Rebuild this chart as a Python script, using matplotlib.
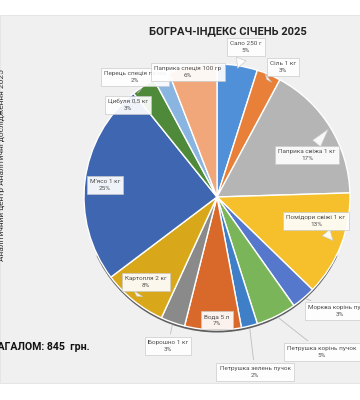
import matplotlib.pyplot as plt
from matplotlib.patches import Rectangle, Wedge
import numpy as np

plt.rcParams['font.family'] = ['Liberation Sans Narrow', 'Roboto', 'DejaVu Sans']

labels = ['Сало 250 г', 'Сіль 1 кг', 'Паприка свіжа 1 кг', 'Помідори свіжі 1 кг',
          'Морква корінь пучок', 'Петрушка корінь пучок', 'Петрушка зелень пучок',
          'Вода 5 л', 'Борошно 1 кг', 'Картопля 2 кг', 'М’ясо 1 кг',
          'Цибуля 0,5 кг', 'Перець спеція пачка', 'Паприка спеція 100 гр']
shares = [5, 3, 17, 13, 3, 5, 2, 7, 3, 8, 25, 3, 2, 6]
colors = ['#4f90d8', '#e8803a', '#b5b5b5', '#f5c02c', '#5577cc', '#7ab55a',
          '#3f7fc8', '#d9692a', '#8a8a8a', '#d9a81a', '#3f66b0', '#4f8a3a',
          '#8ab5e0', '#f2a77a']
title = 'БОГРАЧ-ІНДЕКС СІЧЕНЬ 2025'
total_text = 'ЗАГАЛОМ: 845  грн.'
side_text = 'Аналітичний центр Аналітичні дослідження 2025'

# label box centres (pixel coords, y from top), pointer style and pointer radius
label_pos = [(246, 47), (283, 67), (307, 155), (316, 221), (340, 311), (322, 352),
             (255, 372), (217, 320), (168, 346), (146, 282), (105, 185),
             (128, 105), (135, 77), (188, 72)]
style = ['tail', 'tail', 'tail', 'tail', 'line', 'line', 'line', 'none', 'line',
         'tail', 'none', 'line', 'tail', 'none']
reach = [0.96, 0.96, 1.0, 0.95, 1.0, 1.0, 1.0, 1.0, 1.0, 0.98, 1.0, 1.0, 1.0, 1.0]

W, H = 360, 400
fig = plt.figure(figsize=(3.6, 4.0), dpi=100)
fig.patch.set_facecolor('white')
ax = fig.add_axes([0, 0, 1, 1])

# chart area background
ax.add_patch(Rectangle((0, H - 383), W, 368, fc='#f0f0f0', ec='#e2e2e2', lw=0.6, zorder=0))

cx, cy, r = 217, H - 197, 133

# soft shadow under the pie
ax.add_patch(Wedge((cx, cy - 2.5), r, 205, 335, fc='#3a3a3a', ec='none', alpha=0.8, zorder=1))

wedges, _ = ax.pie(shares, colors=colors, startangle=90, counterclock=False,
                   center=(cx, cy), radius=r, frame=True,
                   wedgeprops=dict(edgecolor='white', linewidth=1.0))
for w in wedges:
    w.set_zorder(2)
ax.set_xlim(0, W)
ax.set_ylim(0, H)
ax.set_aspect('equal')
ax.axis('off')

for w, lab, s, (px, py), st, k in zip(wedges, labels, shares, label_pos, style, reach):
    mid = np.deg2rad((w.theta1 + w.theta2) / 2)
    ty = H - py
    tip = (cx + k * r * np.cos(mid), cy + k * r * np.sin(mid))
    bbox = dict(boxstyle='square,pad=0.5', fc='white', ec='#c8c8c8', lw=0.5, alpha=0.92)
    txt = f'{lab}\n{s}%'
    kw = dict(ha='center', va='center', fontsize=4.6, color='#505050',
              linespacing=1.5, bbox=bbox, zorder=5)
    if st == 'tail':
        ax.annotate(txt, xy=tip, xytext=(px, ty), **kw,
                    arrowprops=dict(arrowstyle='wedge,tail_width=1.6,shrink_factor=0.5',
                                    fc='white', ec='#c8c8c8', lw=0.5, alpha=0.92))
    elif st == 'line':
        ax.annotate(txt, xy=tip, xytext=(px, ty), **kw,
                    arrowprops=dict(arrowstyle='-', color='#bdbdbd', lw=0.6))
    else:
        ax.text(px, ty, txt, **kw)

ax.text(228, H - 31, title, ha='center', va='center', fontsize=8,
        fontweight='bold', color='#222222', zorder=5)
ax.text(-9, H - 347, total_text, ha='left', va='center', fontsize=7.6,
        fontweight='bold', color='#111111', zorder=5)
ax.text(1.5, H - 165, side_text, rotation=90, ha='center', va='center', fontsize=6,
        color='#333333', zorder=5)

fig.savefig('out.png', dpi=100, facecolor='white')
